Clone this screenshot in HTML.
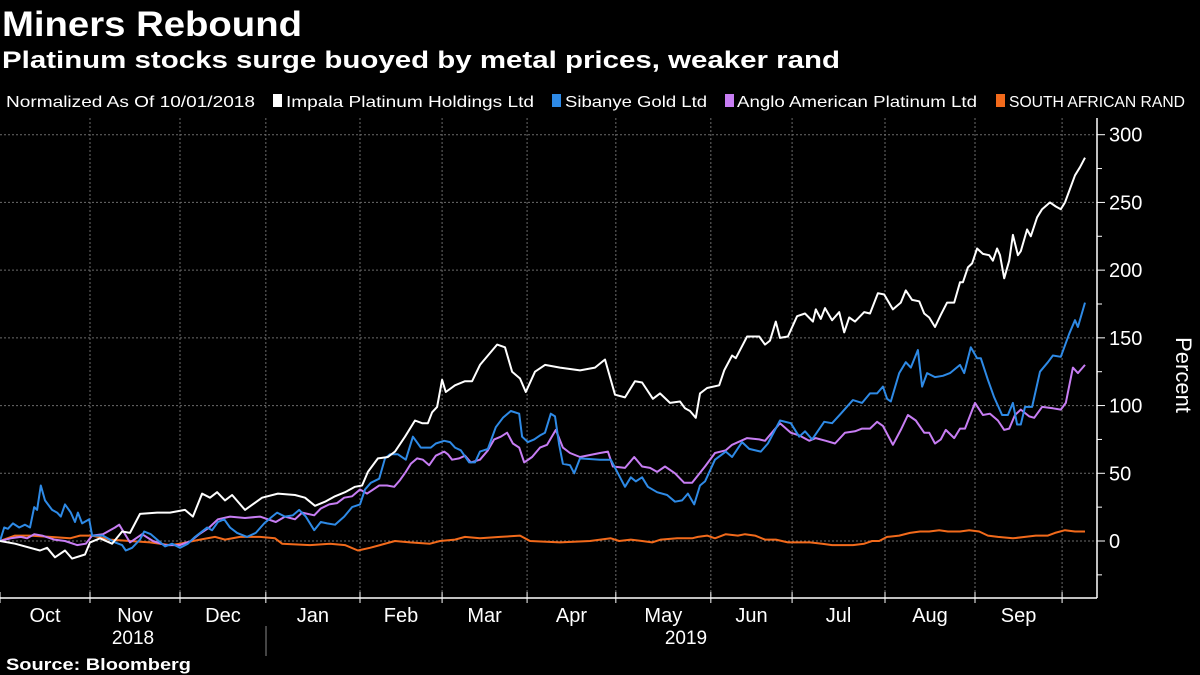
<!DOCTYPE html>
<html><head><meta charset="utf-8"><style>
html,body{margin:0;padding:0;background:#000;}
svg{display:block;font-family:"Liberation Sans",sans-serif;}
</style></head><body>
<svg id="chart" width="1200" height="675" viewBox="0 0 1200 675">
<rect width="1200" height="675" fill="#000"/>
<text x="2" y="36" font-size="35" font-weight="bold" fill="#fff" textLength="300" lengthAdjust="spacingAndGlyphs">Miners Rebound</text>
<text x="2" y="68" font-size="24" font-weight="bold" fill="#fff" textLength="838" lengthAdjust="spacingAndGlyphs">Platinum stocks surge buoyed by metal prices, weaker rand</text>
<g id="legend">
<text x="6" y="107" font-size="16" fill="#fff" textLength="249" lengthAdjust="spacingAndGlyphs">Normalized As Of 10/01/2018</text>
<rect x="273" y="94" width="9" height="13" fill="#fff"/>
<text x="286" y="107" font-size="16" fill="#fff" textLength="248" lengthAdjust="spacingAndGlyphs">Impala Platinum Holdings Ltd</text>
<rect x="552" y="94" width="9" height="13" fill="#2e8ae6"/>
<text x="565" y="107" font-size="16" fill="#fff" textLength="142" lengthAdjust="spacingAndGlyphs">Sibanye Gold Ltd</text>
<rect x="725" y="94" width="9" height="13" fill="#c77df3"/>
<text x="737" y="107" font-size="16" fill="#fff" textLength="240" lengthAdjust="spacingAndGlyphs">Anglo American Platinum Ltd</text>
<rect x="996" y="94" width="9" height="13" fill="#f26a1b"/>
<text x="1009" y="107" font-size="16" fill="#fff" textLength="176" lengthAdjust="spacingAndGlyphs">SOUTH AFRICAN RAND</text>
</g>
<g id="grid"></g>
<g id="axes"></g>
<g id="series"></g>
<text transform="translate(1176,375) rotate(90)" font-size="22" fill="#fff" text-anchor="middle">Percent</text>
<text x="133" y="644" font-size="19" fill="#fff" text-anchor="middle">2018</text>
<text x="686" y="644" font-size="19" fill="#fff" text-anchor="middle">2019</text>
<line x1="266" y1="626" x2="266" y2="656" stroke="#888" stroke-width="1"/>
<text x="6" y="670" font-size="17" font-weight="bold" fill="#fff" textLength="185" lengthAdjust="spacingAndGlyphs">Source: Bloomberg</text>
</svg>
<script>
// x domain: trading-day index since 10/01/2018
const monthLabels = ["Oct","Nov","Dec","Jan","Feb","Mar","Apr","May","Jun","Jul","Aug","Sep"];
const monthStarts = [0,21.6,43.2,63.8,86.4,106.1,126.5,147.8,170.6,190.1,212.4,234,254.9];
const yTicks = [0,50,100,150,200,250,300];
const yMinorTicks = [-25,25,75,125,175,225,275];

const impala = [[0,0],[3.6,-2],[9.6,-7],[11.3,-5],[13.2,-12],[15.6,-7],[17.3,-13],[20.4,-10],[21.6,-1],[24,2],[26.9,-2],[29.3,7],[31.2,6],[33.6,20],[37.7,21],[40.8,21],[44.4,23],[46.3,18],[48.5,35],[50.4,32],[52.1,36],[54,30],[55.7,34],[58.8,23],[62.9,32],[66.7,35],[70.8,34],[73.2,32],[75.6,26],[78,29],[80.4,33],[82.8,36],[85.2,40],[86.9,41],[88.3,51],[90.7,61],[93.1,62],[94.8,66],[97.2,77],[99.6,89],[101.3,87],[102.7,87],[103.7,95],[104.9,99],[106.1,119],[107,110],[109.2,115],[111.6,118],[113.3,118],[115.2,130],[119.3,145],[121.2,143],[122.9,125],[124.8,120],[126.2,110],[128.4,125],[130.8,130],[134.4,128],[139.2,126],[142.8,128],[145.2,134],[147.6,108],[150,106],[152.4,118],[154.1,117],[156.7,105],[158.4,109],[160.8,102],[163.2,103],[164.4,98],[165.6,96],[167,91],[168,109],[169.7,113],[172.6,115],[173.8,126],[175.7,137],[176.6,135],[179.3,151],[182.2,151],[183.6,145],[184.8,148],[186.2,162],[187.2,150],[189.1,151],[191.3,166],[193.2,168],[195.1,162],[195.8,171],[197,164],[198,172],[199.7,163],[201.4,169],[202.6,154],[203.8,165],[205.2,162],[207.4,169],[208.8,168],[210.7,183],[212.2,182],[214.3,171],[216.2,176],[217.4,185],[218.9,178],[220.6,177],[221.8,168],[223,165],[224.4,158],[225.8,167],[227.3,176],[229,176],[230.4,191],[231.1,191],[232.3,202],[233.3,205],[234.5,216],[235.9,212],[237.4,211],[238.3,207],[239.3,216],[240,211],[241,194],[242.2,207],[243.1,226],[244.3,211],[245,214],[246.5,230],[247.4,225],[248.9,239],[250.1,245],[252,250],[253.4,247],[254.6,245],[255.6,250],[258,270],[259.2,276],[260.4,283]];

const sibanye = [[0,0],[1,10],[1.9,9],[3.1,13],[4.6,10],[6,12],[7.2,10],[8.2,25],[8.9,23],[9.8,41],[10.8,30],[12.5,23],[13.7,21],[14.6,18],[15.6,27],[17,21],[18,14],[18.7,21],[19.7,13],[21.4,16],[22.1,4],[24.7,4],[27.6,-1],[29.3,-3],[30.2,-7],[31.7,-5],[33.6,1],[34.6,7],[36.2,5],[37.7,1],[39.6,-4],[41.3,-2],[43.2,-5],[45.1,-2],[46.8,3],[49.7,10],[50.9,8],[52.3,14],[53.8,16],[55.2,10],[56.9,6],[59.3,3],[61.4,6],[63.4,13],[65.3,18],[66.5,21],[68.4,18],[70.3,19],[71.8,23],[73.4,18],[75.4,8],[77,14],[78.5,13],[80.4,12],[82.6,18],[84.5,25],[86.4,27],[87.6,38],[89,43],[91,46],[92.4,61],[93.6,64],[95.5,64],[97.4,60],[99.1,77],[101,69],[103.4,69],[104.6,72],[106.6,74],[108,73],[109.2,69],[110.6,67],[112.6,58],[114,58],[115.2,66],[117.1,68],[119,84],[120.7,91],[122.6,96],[124.6,94],[125.3,77],[126.7,73],[128.2,75],[129.6,78],[130.8,80],[132.2,94],[133.2,92],[134.2,71],[135.1,57],[136.8,56],[137.8,50],[139.2,61],[144,60],[146.6,60],[150,40],[151.4,47],[152.6,44],[154.1,47],[155.5,40],[157.7,36],[160.1,34],[162,29],[163.7,30],[165.1,35],[166.6,27],[168,41],[169.2,44],[171.6,60],[174.2,66],[175.7,62],[178.1,73],[179.8,68],[182.6,66],[184.3,72],[187.2,89],[189.8,87],[191.8,77],[193.2,81],[194.9,75],[197.8,88],[199.7,87],[201.8,94],[204.7,104],[206.9,102],[208.8,109],[210.5,109],[211.9,114],[212.9,105],[213.8,103],[215.8,124],[217.4,132],[218.6,128],[220.3,141],[221.3,114],[222.5,124],[224.4,121],[226.3,122],[228,124],[230.4,130],[231.4,124],[233,143],[234.5,135],[235.4,135],[237.1,119],[238.6,106],[240.5,93],[241.9,93],[243.1,102],[244.1,86],[245,86],[246,99],[247.7,99],[249.6,125],[251.5,132],[252.7,137],[254.6,136],[256.6,153],[258,163],[258.7,158],[260.4,176]];

const anglo = [[0,0],[2.6,2],[5,3],[6.5,2],[8.2,5],[10.1,4],[13,1],[15.6,0],[18.5,-3],[20.6,-2],[22.1,4],[24.7,5],[27.6,10],[28.6,12],[29.8,6],[31.2,-1],[34.1,5],[36.7,0],[39.6,-3],[43.2,-3],[45.8,0],[47.8,5],[50.2,10],[52.3,16],[55.2,18],[58.8,17],[62.4,18],[64.3,16],[66.2,14],[68.4,18],[70.8,16],[72.5,21],[75.4,19],[77,24],[79,27],[80.9,28],[82.6,32],[84.5,33],[86.4,38],[88.1,35],[91,41],[92.9,41],[94.6,40],[96,45],[97.4,51],[98.6,57],[100.1,61],[101.5,60],[103,56],[104.6,63],[106.6,66],[107.5,64],[108.5,60],[110.2,61],[111.6,63],[113,58],[115.2,60],[117.1,67],[118.6,75],[120.2,77],[121.7,80],[123.1,72],[124.6,69],[125.8,58],[127.7,62],[129.6,69],[131.3,71],[133.4,82],[135.1,69],[136.8,65],[139.2,62],[144,65],[145.9,66],[147.1,55],[150,54],[152.2,62],[154.1,55],[156,54],[157.7,51],[159.6,55],[162,50],[164.2,43],[166.1,43],[169.2,55],[171.6,65],[174.2,67],[175.7,71],[179.3,76],[182.2,75],[183.6,74],[187.2,87],[189.8,80],[191.8,78],[194.2,74],[195.8,76],[198.2,74],[200.4,72],[202.8,80],[205.2,81],[206.9,83],[208.8,83],[210.5,88],[211.9,85],[214.3,71],[216.2,82],[217.9,93],[219.8,89],[221.8,80],[223,80],[224.4,72],[225.8,75],[227,82],[229,76],[230.4,83],[231.6,83],[234,102],[235.9,93],[237.6,94],[239.5,89],[241,82],[242.2,83],[243.6,93],[245,97],[247,92],[248.2,91],[250.1,99],[252.7,98],[254.6,97],[255.8,102],[257.5,128],[258.7,124],[260.4,130]];

const rand = [[0,0],[3.6,4],[7.2,4],[12,3],[16.8,2],[19.2,4],[22.1,4],[26.4,1],[31.2,0],[36,-1],[40.8,-3],[43.2,-2],[48,1],[51.6,3],[54,1],[57.6,3],[62.4,3],[66,2],[67.7,-2],[74.4,-3],[79.2,-2],[82.8,-3],[85.9,-7],[88.8,-5],[91.2,-3],[94.8,0],[98.4,-1],[103.2,-2],[105.6,0],[109.2,1],[111.6,3],[115.2,2],[120,3],[124.8,4],[127.2,0],[134.4,-1],[141.6,0],[146.6,2],[148.6,0],[151.4,1],[154.1,0],[156.5,-1],[158.6,1],[162.5,2],[166.1,2],[167.5,3],[169.7,4],[171.6,2],[174.2,5],[177.1,4],[178.8,5],[181.2,4],[183.6,1],[186.2,1],[189.1,-1],[191.8,-1],[194.4,-1],[197.3,-2],[199.7,-3],[202.8,-3],[204.7,-3],[207.4,-2],[209.3,0],[211,0],[212.9,3],[215.8,4],[218.4,6],[220.8,7],[223,7],[225.4,8],[227.5,7],[230.4,7],[232.6,8],[235,7],[237.1,4],[239.5,3],[243.1,2],[246,3],[248.6,4],[251.5,4],[253.2,6],[255.6,8],[258,7],[260.4,7]];

const NS = "http://www.w3.org/2000/svg";
const PL = 0, PR = 1097, PT = 118, PB = 598;
function xScale(d){ return PL + d * (1085 / 260.4); }
function yScale(v){ return 541 - v * (406.3 / 300); }
function mk(tag, attrs, parent){
  const el = document.createElementNS(NS, tag);
  for (const k in attrs) el.setAttribute(k, attrs[k]);
  parent.appendChild(el);
  return el;
}
const grid = document.getElementById("grid");
const axes = document.getElementById("axes");
const series = document.getElementById("series");

yTicks.forEach(v => {
  const y = yScale(v);
  const gl = mk("line", {x1:PL, x2:PR, y1:y, y2:y, stroke:"#6b6b6b", "stroke-width":1, "stroke-dasharray":"2,2"}, grid);
  
  
  const tk = mk("line", {x1:PR, x2:PR+8, y1:y, y2:y, stroke:"#fff", "stroke-width":1}, axes);
  
  
  const t = mk("text", {x:PR+12, y:y+7, "font-size":20, fill:"#fff"}, axes);
  t.textContent = v;
  
  
});
yMinorTicks.forEach(v => {
  const y = yScale(v);
  const tk = mk("line", {x1:PR, x2:PR+5, y1:y, y2:y, stroke:"#fff", "stroke-width":1}, axes);
  
  
});
monthStarts.forEach((d, i) => {
  const x = xScale(d);
  if (i > 0 && x < PR) {
    const gl = mk("line", {x1:x, x2:x, y1:PT, y2:PB, stroke:"#6b6b6b", "stroke-width":1, "stroke-dasharray":"2,2"}, grid);
    
    
  }
  const tk = mk("line", {x1:x, x2:x, y1:PB-6, y2:PB+5, stroke:"#fff", "stroke-width":1}, axes);
  
  
});
monthLabels.forEach((m, i) => {
  const x = (xScale(monthStarts[i]) + xScale(monthStarts[i+1])) / 2;
  const t = mk("text", {x:x, y:622, "font-size":20, fill:"#fff", "text-anchor":"middle"}, axes);
  t.textContent = m;
  
  
});
const xa = mk("line", {x1:PL, x2:PR, y1:PB, y2:PB, stroke:"#fff", "stroke-width":1.5}, axes);


const ya = mk("line", {x1:PR, x2:PR, y1:PT, y2:PB, stroke:"#fff", "stroke-width":1.5}, axes);



function drawLine(data, color, name){
  const d = data.map((p, i) => (i ? "L" : "M") + xScale(p[0]).toFixed(1) + "," + yScale(p[1]).toFixed(1)).join("");
  const path = mk("path", {d:d, fill:"none", stroke:color, "stroke-width":2, "stroke-linejoin":"round"}, series);
  
  
}
drawLine(rand, "#f26a1b", "line-south-african-rand");
drawLine(anglo, "#c77df3", "line-anglo-american-platinum");
drawLine(sibanye, "#2e8ae6", "line-sibanye-gold");
drawLine(impala, "#ffffff", "line-impala-platinum");
</script>
</body></html>
